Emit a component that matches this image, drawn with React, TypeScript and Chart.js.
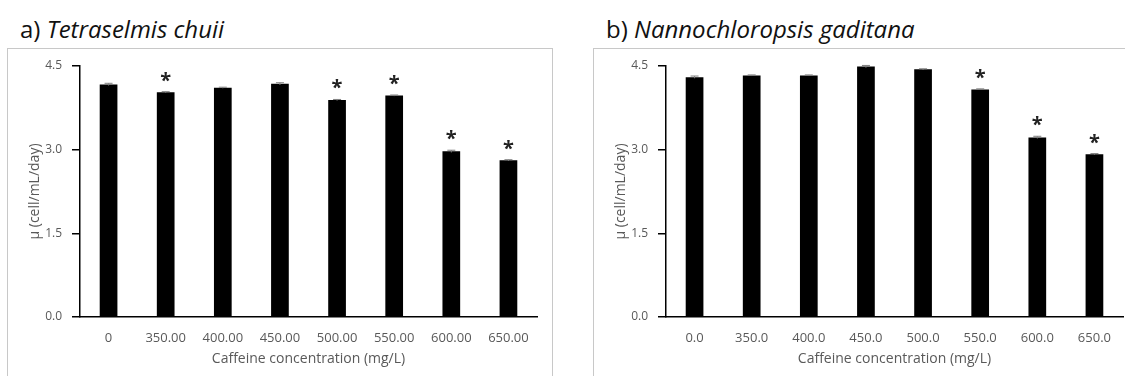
import React, { useEffect, useRef } from "react";
import { Chart, registerables } from "chart.js";

Chart.register(...registerables);

const categoriesA = ["0", "350.00", "400.00", "450.00", "500.00", "550.00", "600.00", "650.00"];
const categoriesB = ["0.0", "350.0", "400.0", "450.0", "500.0", "550.0", "600.0", "650.0"];
const valuesA = [4.17, 4.03, 4.11, 4.18, 3.89, 3.97, 2.97, 2.81];
const valuesB = [4.3, 4.33, 4.33, 4.49, 4.44, 4.08, 3.22, 2.92];
const errorsA = [0.02, 0.01, 0.01, 0.02, 0.01, 0.01, 0.02, 0.01];
const errorsB = [0.02, 0.01, 0.01, 0.02, 0.01, 0.01, 0.02, 0.01];
const significantA = [false, true, false, false, true, true, true, true];
const significantB = [false, false, false, false, false, true, true, true];
const yTickValues = [0, 1.5, 3.0, 4.5];
const yTitle = "μ (cell/mL/day)";
const xTitle = "Caffeine concentration (mg/L)";

const FONT = '"Open Sans", "DejaVu Sans", sans-serif';

const markerPlugin = {
  id: "markers",
  afterDatasetsDraw(chart: any, _args: any, opts: any) {
    const { ctx } = chart;
    const meta = chart.getDatasetMeta(0);
    const yScale = chart.scales.y;
    const errors: number[] = opts.errors || [];
    const sig: boolean[] = opts.sig || [];
    const values: number[] = chart.data.datasets[0].data;
    ctx.save();
    meta.data.forEach((bar: any, i: number) => {
      const v = values[i];
      const e = errors[i] || 0;
      const x = bar.x;
      if (e > 0) {
        const yHi = yScale.getPixelForValue(v + e);
        const yLo = yScale.getPixelForValue(v - e);
        ctx.strokeStyle = "#7f7f7f";
        ctx.lineWidth = 1;
        ctx.beginPath();
        ctx.moveTo(x, yLo);
        ctx.lineTo(x, yHi);
        ctx.moveTo(x - 4, yHi);
        ctx.lineTo(x + 4, yHi);
        ctx.stroke();
      }
      if (sig[i]) {
        ctx.font = `bold 20px ${FONT}`;
        ctx.fillStyle = "#222";
        ctx.textAlign = "center";
        ctx.textBaseline = "alphabetic";
        const m = ctx.measureText("*");
        const asc = m.actualBoundingBoxAscent;
        const desc = m.actualBoundingBoxDescent;
        const top = yScale.getPixelForValue(v + e);
        const center = top - 15;
        const baseline = center + (asc - desc) / 2;
        ctx.fillText("*", x, baseline);
      }
    });
    ctx.restore();
  },
};

function Panel(props: {
  labels: string[];
  values: number[];
  errors: number[];
  sig: boolean[];
}) {
  const ref = useRef<HTMLCanvasElement | null>(null);
  useEffect(() => {
    if (!ref.current) return;
    const chart = new Chart(ref.current, {
      type: "bar",
      data: {
        labels: props.labels,
        datasets: [
          {
            data: props.values,
            backgroundColor: "#000000",
            borderWidth: 0,
            categoryPercentage: 0.31,
            barPercentage: 1,
          },
        ],
      },
      options: {
        animation: false,
        responsive: false,
        maintainAspectRatio: false,
        devicePixelRatio: 1,
        layout: { padding: { top: 18, right: 17, left: 0, bottom: 0 } },
        plugins: {
          legend: { display: false },
          tooltip: { enabled: false },
          markers: { errors: props.errors, sig: props.sig },
        } as any,
        scales: {
          x: {
            grid: { display: false },
            border: { display: true, color: "#000", width: 1.5 },
            ticks: {
              color: "#595959",
              font: { family: FONT, size: 13 },
              padding: 5,
              maxRotation: 0,
              autoSkip: false,
            },
            title: {
              display: true,
              text: xTitle,
              color: "#595959",
              font: { family: FONT, size: 14 },
              padding: { top: 0, bottom: 9 },
            },
            afterFit(scale: any) {
              scale.height = 59;
            },
          },
          y: {
            min: 0,
            max: 4.5,
            grid: {
              display: true,
              drawOnChartArea: false,
              drawTicks: true,
              tickLength: 8,
              color: "#000",
              lineWidth: 1.5,
            },
            border: { display: true, color: "#000", width: 1.5 },
            ticks: {
              color: "#595959",
              font: { family: FONT, size: 12 },
              padding: 10,
              callback: (v: any) => Number(v).toFixed(1),
            },
            afterBuildTicks(scale: any) {
              scale.ticks = yTickValues.map((value) => ({ value }));
            },
            title: {
              display: true,
              text: yTitle,
              color: "#595959",
              font: { family: FONT, size: 14 },
              padding: { top: 19, bottom: 0 },
            },
            afterFit(scale: any) {
              scale.width = 72;
            },
          },
        },
      },
      plugins: [markerPlugin],
    });
    return () => chart.destroy();
  }, []);
  return <canvas ref={ref} width={546} height={328} style={{ width: 546, height: 328, display: "block" }} />;
}

const titleStyle: React.CSSProperties = {
  position: "absolute",
  top: 17,
  fontFamily: FONT,
  fontSize: 24,
  lineHeight: 1,
  color: "#111",
  whiteSpace: "nowrap",
};

const boxStyle: React.CSSProperties = {
  position: "absolute",
  top: 48,
  width: 546,
  height: 340,
  border: "1px solid #c8c8c8",
  boxSizing: "border-box",
};

export default function App() {
  return (
    <div
      style={{
        position: "absolute",
        left: 0,
        top: 0,
        width: 1125,
        height: 376,
        overflow: "hidden",
        background: "#fff",
      }}
    >
      <div style={{ ...titleStyle, left: 20 }}>
        a) <i>Tetraselmis chuii</i>
      </div>
      <div style={{ ...titleStyle, left: 606 }}>
        b) <i>Nannochloropsis gaditana</i>
      </div>
      <div style={{ ...boxStyle, left: 7 }} />
      <div style={{ ...boxStyle, left: 593 }} />
      <div style={{ position: "absolute", left: 8, top: 48 }}>
        <Panel labels={categoriesA} values={valuesA} errors={errorsA} sig={significantA} />
      </div>
      <div style={{ position: "absolute", left: 594, top: 48 }}>
        <Panel labels={categoriesB} values={valuesB} errors={errorsB} sig={significantB} />
      </div>
    </div>
  );
}
